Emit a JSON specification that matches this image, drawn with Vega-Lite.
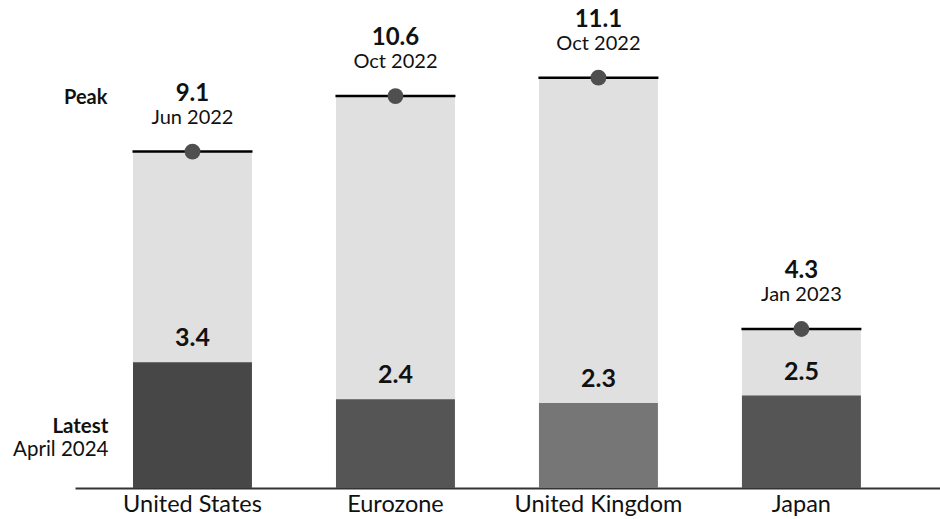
{
  "$schema": "https://vega.github.io/schema/vega-lite/v6.json",
  "width": 865,
  "height": 488,
  "autosize": {"type": "none"},
  "padding": {"left": 75, "top": 0, "right": 0, "bottom": 31},
  "background": "white",
  "config": {
    "view": {"stroke": null},
    "font": "Lato",
    "text": {"font": "Lato", "color": "#111"}
  },
  "data": {
    "values": [
      {"country": "United States", "peak": 9.1, "peak_date": "Jun 2022", "latest": 3.4},
      {"country": "Eurozone", "peak": 10.6, "peak_date": "Oct 2022", "latest": 2.4},
      {"country": "United Kingdom", "peak": 11.1, "peak_date": "Oct 2022", "latest": 2.3},
      {"country": "Japan", "peak": 4.3, "peak_date": "Jan 2023", "latest": 2.5}
    ]
  },
  "encoding": {
    "x": {
      "field": "country",
      "type": "nominal",
      "sort": null,
      "title": null,
      "scale": {"paddingInner": 0.414, "paddingOuter": 0.3377, "align": 0.423},
      "axis": {
        "labelAngle": 0,
        "ticks": false,
        "domainColor": "#333",
        "domainWidth": 2,
        "labelFont": "Lato",
        "labelFontSize": 23.5,
        "labelColor": "#111",
        "labelPadding": 4
      }
    }
  },
  "layer": [
    {
      "mark": {"type": "bar", "color": "#e0e0e0"},
      "encoding": {
        "y": {"field": "peak", "type": "quantitative", "scale": {"domain": [0, 13.2], "nice": false, "zero": true}, "axis": null}
      }
    },
    {
      "mark": {"type": "bar"},
      "encoding": {
        "y": {"field": "latest", "type": "quantitative"},
        "color": {
          "field": "country",
          "type": "nominal",
          "legend": null,
          "scale": {
            "domain": ["United States", "Eurozone", "United Kingdom", "Japan"],
            "range": ["#474747", "#555555", "#767676", "#555555"]
          }
        }
      }
    },
    {
      "mark": {"type": "tick", "color": "#000", "opacity": 1, "thickness": 2.5, "size": 120},
      "encoding": {"y": {"field": "peak", "type": "quantitative"}}
    },
    {
      "mark": {"type": "point", "filled": true, "color": "#4f4f4f", "opacity": 1, "size": 250},
      "encoding": {"y": {"field": "peak", "type": "quantitative"}}
    },
    {
      "mark": {"type": "text", "fontWeight": "bold", "fontSize": 24, "dy": -58, "baseline": "middle"},
      "encoding": {"y": {"field": "peak", "type": "quantitative"}, "text": {"field": "peak", "type": "quantitative", "format": ".1f"}}
    },
    {
      "mark": {"type": "text", "fontSize": 20, "dy": -34, "baseline": "middle"},
      "encoding": {"y": {"field": "peak", "type": "quantitative"}, "text": {"field": "peak_date"}}
    },
    {
      "mark": {"type": "text", "fontWeight": "bold", "fontSize": 25, "dy": -24, "baseline": "middle"},
      "encoding": {"y": {"field": "latest", "type": "quantitative"}, "text": {"field": "latest", "type": "quantitative", "format": ".1f"}}
    },
    {
      "transform": [{"filter": "datum.country === 'United States'"}],
      "mark": {"type": "text", "fontWeight": "bold", "fontSize": 20, "align": "right", "dx": -85, "dy": -54, "baseline": "middle"},
      "encoding": {"y": {"field": "peak", "type": "quantitative"}, "text": {"value": "Peak"}}
    },
    {
      "transform": [{"filter": "datum.country === 'United States'"}, {"calculate": "datum.latest / 2", "as": "mid"}],
      "mark": {"type": "text", "fontWeight": "bold", "fontSize": 20.5, "align": "right", "dx": -84, "dy": 2, "baseline": "middle"},
      "encoding": {"y": {"field": "mid", "type": "quantitative"}, "text": {"value": "Latest"}}
    },
    {
      "transform": [{"filter": "datum.country === 'United States'"}, {"calculate": "datum.latest / 2", "as": "mid"}],
      "mark": {"type": "text", "fontSize": 20.5, "align": "right", "dx": -84, "dy": 25, "baseline": "middle"},
      "encoding": {"y": {"field": "mid", "type": "quantitative"}, "text": {"value": "April 2024"}}
    }
  ]
}
